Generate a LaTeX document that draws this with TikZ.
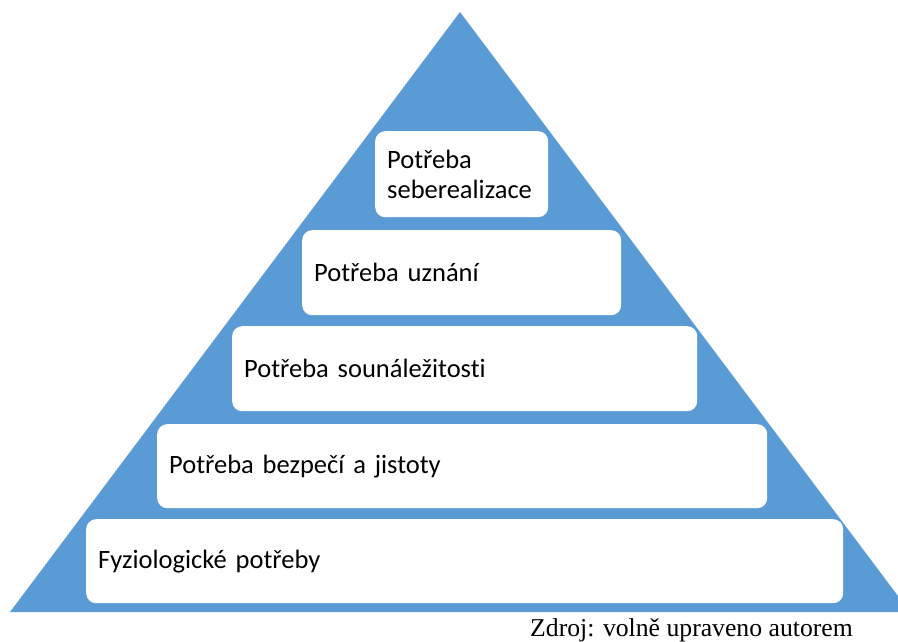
\documentclass[tikz,border=0pt]{standalone}
\usepackage{fontspec}
\setmainfont{Carlito}[Ligatures=NoCommon]
\newfontfamily\capfont{Liberation Serif}
\definecolor{pyrblue}{HTML}{5B9BD5}
\begin{document}
\begin{tikzpicture}[x=1pt,y=-1pt,
  level/.style={draw=none, fill=white, rounded corners=10pt, inner xsep=12pt, inner ysep=0pt,
    anchor=north west, align=left,
    font={\fontsize{26.5}{30}\selectfont\spaceskip=\fontdimen2\font\relax}}]
\useasboundingbox (0,0) rectangle (898,642);
\clip (0,0) rectangle (898,642);
\fill[pyrblue] (460,12) -- (910,612) -- (10,612) -- cycle;
\node[level, minimum width=173pt, minimum height=86pt, text width=149pt] (l1) at (375,131) {Potřeba\\seberealizace};
\node[level, minimum width=319pt, minimum height=85pt, text width=295pt] (l2) at (302,230) {Potřeba uznání};
\node[level, minimum width=465pt, minimum height=85pt, text width=441pt] (l3) at (232,326) {Potřeba sounáležitosti};
\node[level, minimum width=610pt, minimum height=84pt, text width=586pt] (l4) at (157,424) {Potřeba bezpečí a jistoty};
\node[level, minimum width=757pt, minimum height=84pt, text width=733pt] (l5) at (86,519) {Fyziologické potřeby};
\node[anchor=base east, inner sep=0pt, font=\capfont\fontsize{25.7}{30}\selectfont] (src) at (853,636) {Zdroj: volně upraveno autorem};
\end{tikzpicture}
\end{document}
